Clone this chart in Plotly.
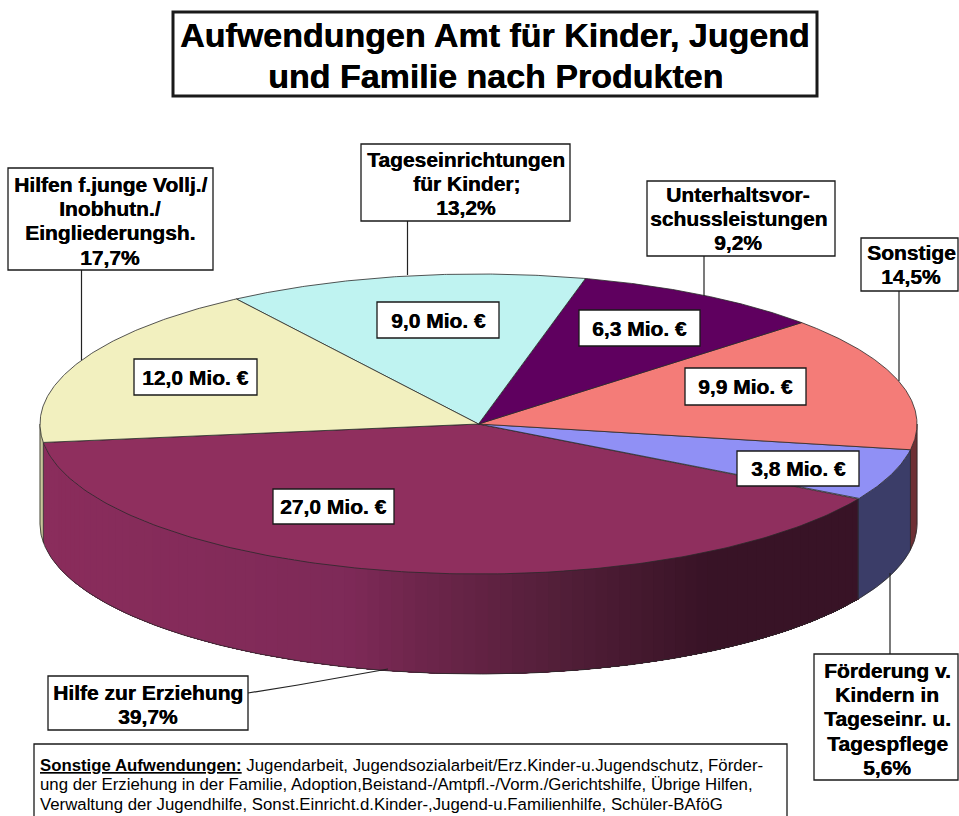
import numpy as np
import plotly.graph_objects as go

# ---- data ----
categories = ["Hilfe zur Erziehung", "Förderung v. Kindern in Tageseinr. u. Tagespflege", "Sonstige",
              "Unterhaltsvorschussleistungen", "Tageseinrichtungen für Kinder", "Hilfen f.junge Vollj./Inobhutn./Eingliederungsh."]
values_mio = [27.0, 3.8, 9.9, 6.3, 9.0, 12.0]
percent_labels = ["39,7%", "5,6%", "14,5%", "9,2%", "13,2%", "17,7%"]
top_colors = ["#8f2f5e", "#9090f5", "#f47c78", "#5f005f", "#bff3f1", "#f2f0bf"]
side_colors = [None, "#3b3d68", "#6e3034", "#3a0a3a", "#7f9f9f", "#c8c69a"]

# ---- pie geometry (pixels on a 959x816 sheet) ----
CX, CY, RX, RY, DEPTH = 478.5, 424, 438.5, 150, 100
START_DEG = -30.0
OUT = "#2a2a2a"
FONT = "Liberation Sans, Arial, sans-serif"

total = sum(values_mio)
sweeps = [v / total * 360 for v in values_mio]


def ell(t_deg, dy=0.0):
    t = np.radians(t_deg)
    return CX + RX * np.cos(t), CY - RY * np.sin(t) + dy


fig = go.Figure()


def poly(x, y, fill, line=None, width=0.0):
    fig.add_trace(go.Scatter(x=x, y=y, mode="lines", fill="toself", fillcolor=fill,
                             line=dict(color=line or fill, width=width),
                             hoverinfo="skip", showlegend=False))


def wall(a0, a1, color, width=0.6):
    ts = np.linspace(a0, a1, 60)
    xt, yt = ell(ts)
    xb, yb = ell(ts[::-1], DEPTH)
    poly(np.r_[xt, xb, xt[0]], np.r_[yt, yb, yt[0]], color, color, width)


GRAD_X = [60, 350, 420, 575, 710, 860]
GRAD_R = [138, 126, 110, 80, 56, 56]
GRAD_G = [45, 42, 38, 30, 19, 19]
GRAD_B = [92, 88, 76, 55, 38, 38]


def hilfe_color(x):
    return "rgb(%d,%d,%d)" % (np.interp(x, GRAD_X, GRAD_R), np.interp(x, GRAD_X, GRAD_G),
                              np.interp(x, GRAD_X, GRAD_B))


# side walls: slices are laid out from START_DEG downwards (clockwise on the sheet)
a_hilfe_end = START_DEG - sweeps[0]
a_blue_top = START_DEG + sweeps[1]
wall(-180, a_hilfe_end, side_colors[5])
# each band runs on to the end of the slice and the next band paints over it, so no seams show
steps = np.linspace(a_hilfe_end, START_DEG, 91)
for s0, s1 in zip(steps[:-1], steps[1:]):
    xm, _ = ell((s0 + s1) / 2)
    wall(s0, START_DEG, hilfe_color(xm), 0)
wall(START_DEG, a_blue_top, side_colors[1])
wall(a_blue_top, 0, side_colors[2])

# wall outlines
ts = np.linspace(-180, 0, 240)
xb, yb = ell(ts, DEPTH)
fig.add_trace(go.Scatter(x=xb, y=yb, mode="lines", line=dict(color=OUT, width=0.8),
                         hoverinfo="skip", showlegend=False))
for a in (-180, a_hilfe_end, START_DEG, a_blue_top, 0):
    x0, y0 = ell(a)
    fig.add_trace(go.Scatter(x=[x0, x0], y=[y0, y0 + DEPTH], mode="lines",
                             line=dict(color=OUT, width=0.8),
                             hoverinfo="skip", showlegend=False))

# top faces: Hilfe clockwise from START_DEG, the rest counter-clockwise
ranges = [(START_DEG - sweeps[0], START_DEG)]
a = START_DEG
for s in sweeps[1:]:
    ranges.append((a, a + s))
    a += s
for (a0, a1), color in zip(ranges, top_colors):
    ts = np.linspace(a0, a1, 160)
    xe, ye = ell(ts)
    poly(np.r_[CX, xe, CX], np.r_[CY, ye, CY], color, OUT, 0.8)

# ---- boxes, leaders, labels ----
shapes = []


def box(x0, y0, x1, y1, w=1.3):
    shapes.append(dict(type="rect", xref="x", yref="y", x0=x0, y0=y0, x1=x1, y1=y1,
                       fillcolor="white", line=dict(color="#1a1a1a", width=w), layer="above"))


def leader(points):
    path = "M " + " L ".join(f"{x},{y}" for x, y in points)
    shapes.append(dict(type="path", xref="x", yref="y", path=path,
                       line=dict(color="#222222", width=1.2), layer="above"))


leader([(81.5, 270), (81.5, 360)])
leader([(407.5, 221), (407.5, 275)])
leader([(704, 256), (704, 296)])
leader([(899, 291), (899, 381)])
leader([(890, 573), (890, 654)])
leader([(248, 693), (298, 685), (388, 669)])

annotations = []


def text(cx, cy, s, size, anchor="center", weight=True):
    annotations.append(dict(x=cx, y=cy, xref="x", yref="y", text=f"<b>{s}</b>" if weight else s,
                            showarrow=False, xanchor=anchor, yanchor="middle", align=anchor,
                            font=dict(family=FONT, size=size, color="black",
                                      shadow="0.4px 0 0.3px black" if weight else "none")))


def lines(cx, first_y, rows, size, step):
    for k, row in enumerate(rows):
        text(cx, first_y + k * step, row, size)


box(173, 12, 817, 96, 3)
lines(495, 35, ["Aufwendungen Amt für Kinder, Jugend", "und Familie nach Produkten"], 34, 41)

LABEL_SIZE, LABEL_STEP = 21, 24.4
callouts = [
    ((48, 676, 248, 730), 148, 692, ["Hilfe zur Erziehung"], 0),
    ((814, 654, 958, 780), 887, 670, ["Förderung v.", "Kindern in", "Tageseinr. u.", "Tagespflege"], 1),
    ((861, 238, 958, 291), 911, 252, ["Sonstige"], 2),
    ((647, 181, 835, 256), 738, 194, ["Unterhaltsvor-", "schussleistungen"], 3),
    ((361, 144, 570, 221), 466, 159, ["Tageseinrichtungen", "für Kinder;"], 4),
    ((8, 168, 213, 270), 110, 184, ["Hilfen f.junge Vollj./", "Inobhutn./", "Eingliederungsh."], 5),
]
for (x0, y0, x1, y1), cx, fy, rows, i in callouts:
    box(x0, y0, x1, y1)
    lines(cx, fy, rows + [percent_labels[i]], LABEL_SIZE, LABEL_STEP)

value_boxes = [(273, 489, 394, 524), (737, 451, 859, 486), (685, 368, 806, 405),
               (579, 310, 700, 346), (377, 302, 499, 338), (134, 359, 257, 395)]
for (x0, y0, x1, y1), v in zip(value_boxes, values_mio):
    box(x0, y0, x1, y1)
    text((x0 + x1) / 2, (y0 + y1) / 2, f"{v:.1f}".replace(".", ",") + " Mio. €", LABEL_SIZE)

box(34, 744, 787, 830)
note_rows = ["<b><u>Sonstige Aufwendungen:</u></b> Jugendarbeit, Jugendsozialarbeit/Erz.Kinder-u.Jugendschutz, Förder-",
             "ung der Erziehung in der Familie, Adoption,Beistand-/Amtpfl.-/Vorm./Gerichtshilfe, Übrige Hilfen,",
             "Verwaltung der Jugendhilfe, Sonst.Einricht.d.Kinder-,Jugend-u.Familienhilfe, Schüler-BAföG"]
for k, row in enumerate(note_rows):
    text(38, 765 + k * 19.5, row, 16.8, anchor="left", weight=False)

fig.update_layout(
    width=959, height=816, autosize=False,
    margin=dict(l=0, r=0, t=0, b=0, pad=0),
    paper_bgcolor="white", plot_bgcolor="white",
    xaxis=dict(range=[0, 959], visible=False, fixedrange=True),
    yaxis=dict(range=[816, 0], visible=False, fixedrange=True),
    showlegend=False, shapes=shapes, annotations=annotations,
)
fig.write_html("out.html", config={"displayModeBar": False},
               post_script="document.body.style.margin='0';document.documentElement.style.overflow='hidden';")
